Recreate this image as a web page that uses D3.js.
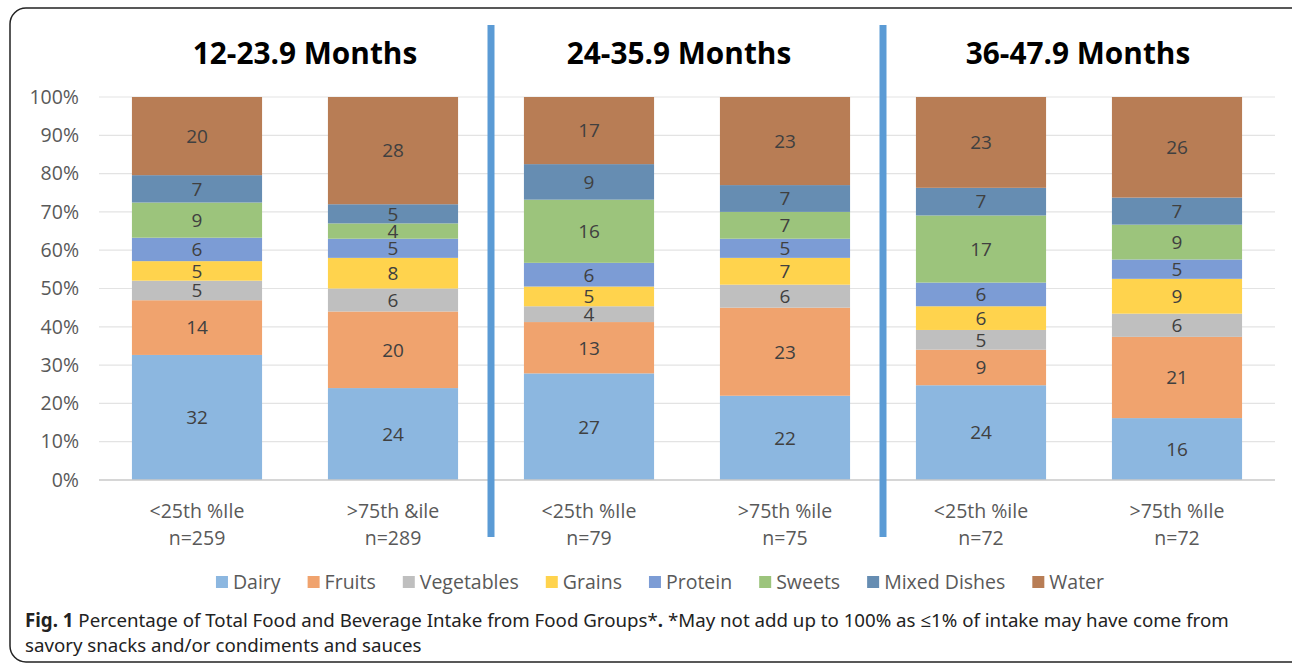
<!DOCTYPE html>
<html lang="en">
<head>
  <meta charset="UTF-8">
  <title>Food group intake by age</title>
  <script src="https://d3js.org/d3.v7.min.js"></script>
  <style>
    body { margin: 0; background: #fff; }
    svg { display: block; font-family: "Open Sans", "Noto Sans", sans-serif; }
  </style>
</head>
<body>
<script>
  // data
  const groups = ["Dairy", "Fruits", "Vegetables", "Grains", "Protein", "Sweets", "Mixed Dishes", "Water"];
  const colors = ["#8cb7e0", "#f0a36e", "#bfbfbf", "#ffd34d", "#7c9cd5", "#9cc47c", "#668db2", "#b87d55"];
  const ageTitles = ["12-23.9 Months", "24-35.9 Months", "36-47.9 Months"];
  const barLabels = [
    ["<25th %Ile", "n=259"], [">75th &ile", "n=289"],
    ["<25th %Ile", "n=79"], [">75th %ile", "n=75"],
    ["<25th %ile", "n=72"], [">75th %Ile", "n=72"]
  ];
  const dairy       = [32, 24, 27, 22, 24, 16];
  const fruits      = [14, 20, 13, 23, 9, 21];
  const vegetables  = [5, 6, 4, 6, 5, 6];
  const grains      = [5, 8, 5, 7, 6, 9];
  const protein     = [6, 5, 6, 5, 6, 5];
  const sweets      = [9, 4, 16, 7, 17, 9];
  const mixedDishes = [7, 5, 9, 7, 7, 7];
  const water       = [20, 28, 17, 23, 23, 26];
  const yTicks = [0, 0.1, 0.2, 0.3, 0.4, 0.5, 0.6, 0.7, 0.8, 0.9, 1];

  const series = [dairy, fruits, vegetables, grains, protein, sweets, mixedDishes, water];
  const rows = barLabels.map((l, i) => {
    const r = { id: i };
    groups.forEach((g, k) => r[g] = series[k][i]);
    return r;
  });

  const W = 1292, H = 664;
  const svg = d3.select("body").append("svg").attr("width", W).attr("height", H);

  // outer frame
  svg.append("rect")
    .attr("x", 10).attr("y", 8).attr("width", 1300).attr("height", 654)
    .attr("rx", 16)
    .attr("fill", "none").attr("stroke", "#222").attr("stroke-width", 1.5);

  const x = d3.scaleBand().domain(rows.map(d => d.id)).range([99, 1275]).paddingInner(0.336).paddingOuter(0.168);
  const y = d3.scaleLinear().domain([0, 1]).range([480, 97]);

  // gridlines
  svg.append("g").selectAll("line").data(yTicks.slice(1)).join("line")
    .attr("x1", 99).attr("x2", 1275)
    .attr("y1", d => y(d)).attr("y2", d => y(d))
    .attr("stroke", "#e3e3e3").attr("stroke-width", 1.2);

  // y axis labels
  const yAxis = d3.axisLeft(y).tickValues(yTicks).tickFormat(d3.format(".0%")).tickSize(0).tickPadding(0);
  svg.append("g").attr("transform", "translate(79,0)").call(yAxis)
    .call(g => g.select(".domain").remove())
    .selectAll("text").attr("font-size", 19.5).attr("fill", "#595959")
    .attr("font-family", "'Open Sans', sans-serif");

  // 100% stacked bars
  const stack = d3.stack().keys(groups).offset(d3.stackOffsetExpand);
  const layers = stack(rows);

  const layerG = svg.append("g").selectAll("g").data(layers).join("g")
    .attr("fill", (d, i) => colors[i]);

  layerG.selectAll("rect").data(d => d).join("rect")
    .attr("x", d => x(d.data.id))
    .attr("width", x.bandwidth())
    .attr("y", d => y(d[1]))
    .attr("height", d => y(d[0]) - y(d[1]));

  layerG.selectAll("text").data(d => d.map(v => Object.assign(v, { key: d.key }))).join("text")
    .attr("x", d => x(d.data.id) + x.bandwidth() / 2)
    .attr("y", d => (y(d[0]) + y(d[1])) / 2)
    .attr("dy", "0.36em")
    .attr("text-anchor", "middle")
    .attr("font-size", 19)
    .attr("fill", "#404040")
    .text(d => d.data[d.key]);

  // baseline
  svg.append("line")
    .attr("x1", 99).attr("x2", 1275).attr("y1", y(0)).attr("y2", y(0))
    .attr("stroke", "#c8c8c8").attr("stroke-width", 1.5);

  // x labels
  const xl = svg.append("g").selectAll("text").data(rows).join("text")
    .attr("text-anchor", "middle")
    .attr("font-size", 19.5)
    .attr("fill", "#595959");
  xl.append("tspan").attr("x", d => x(d.id) + x.bandwidth() / 2).attr("y", 518).text(d => barLabels[d.id][0]);
  xl.append("tspan").attr("x", d => x(d.id) + x.bandwidth() / 2).attr("y", 545).text(d => barLabels[d.id][1]);

  // separators between age panels
  const sepX = [1, 3].map(i => (x(i) + x.bandwidth() + x(i + 1)) / 2);
  svg.append("g").selectAll("line").data(sepX).join("line")
    .attr("x1", d => d).attr("x2", d => d).attr("y1", 25).attr("y2", 537)
    .attr("stroke", "#5b9bd5").attr("stroke-width", 7);

  // panel titles
  svg.append("g").selectAll("text").data(ageTitles).join("text")
    .attr("x", (d, i) => i === 2 ? 1078 : (x(i * 2) + x(i * 2 + 1) + x.bandwidth()) / 2 + (i === 0 ? 10 : -8))
    .attr("y", 64)
    .attr("text-anchor", "middle")
    .attr("font-size", 29.8)
    .attr("font-weight", "bold")
    .attr("fill", "#000")
    .text(d => d);

  // legend
  const legend = svg.append("g");
  const items = legend.selectAll("g").data(groups).join("g");
  items.append("rect").attr("width", 12).attr("height", 12).attr("y", -13)
    .attr("fill", (d, i) => colors[i]);
  items.append("text").attr("x", 17).attr("font-size", 19.5).attr("fill", "#595959").text(d => d);
  let lx = 0;
  items.each(function() {
    d3.select(this).attr("transform", `translate(${lx},0)`);
    lx += 17 + this.querySelector("text").getComputedTextLength() + 27;
  });
  lx -= 27;
  legend.attr("transform", `translate(${(212 + 1108) / 2 - lx / 2},589)`);

  // caption
  const cap = svg.append("text").attr("x", 25).attr("y", 627).attr("font-size", 18.7).attr("fill", "#222")
    .attr("font-family", "'Noto Sans', 'Open Sans', sans-serif");
  cap.append("tspan").attr("font-weight", "bold").text("Fig. 1");
  cap.append("tspan").text(" Percentage of Total Food and Beverage Intake from Food Groups*");
  cap.append("tspan").attr("font-weight", "bold").text(".");
  cap.append("tspan").text(" *May not add up to 100% as \u22641% of intake may have come from");
  svg.append("text").attr("x", 25).attr("y", 652).attr("font-size", 18.7).attr("fill", "#222")
    .attr("font-family", "'Noto Sans', 'Open Sans', sans-serif")
    .text("savory snacks and/or condiments and sauces");
</script>
</body>
</html>
